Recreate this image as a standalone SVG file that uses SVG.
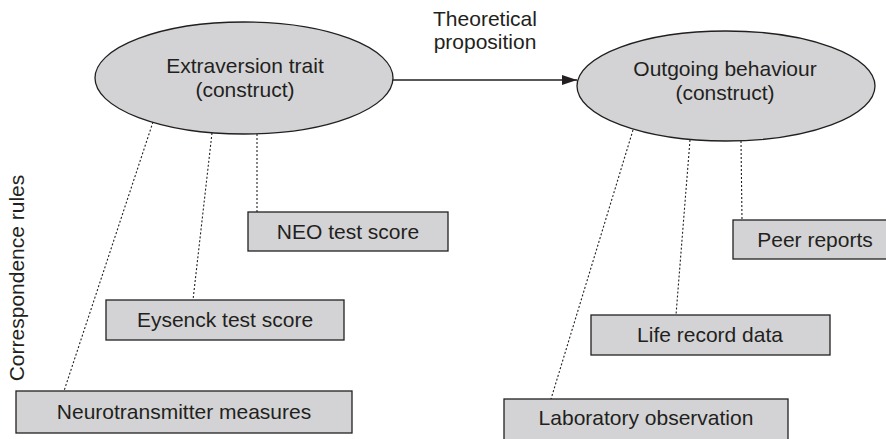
<svg xmlns="http://www.w3.org/2000/svg" width="886" height="439" viewBox="0 0 886 439">
<defs>
<style>
.node{fill:#d3d3d5;stroke:#231f20;stroke-width:1.3}
.t{font-family:"Liberation Sans",Arial,sans-serif;font-size:21px;fill:#231f20;text-anchor:middle}
.dot{stroke:#231f20;stroke-width:1.1;stroke-dasharray:2 2;fill:none}
.arr{stroke:#231f20;stroke-width:1.3;fill:none}
</style>
<marker id="ah" markerWidth="16" markerHeight="12" refX="15" refY="5" orient="auto" markerUnits="userSpaceOnUse">
<path d="M0,0 L15,5 L0,10 Z" fill="#231f20"/>
</marker>
</defs>
<rect width="886" height="439" fill="#ffffff"/>
<g id="connectors">
<line class="arr" x1="393" y1="80" x2="577" y2="80" marker-end="url(#ah)"/>
<line class="dot" x1="153" y1="122" x2="64" y2="391"/>
<line class="dot" x1="212" y1="133" x2="193" y2="300"/>
<line class="dot" x1="257" y1="134" x2="257" y2="212"/>
<line class="dot" x1="633" y1="130" x2="551" y2="399"/>
<line class="dot" x1="690" y1="140" x2="676" y2="315"/>
<line class="dot" x1="741" y1="141" x2="742" y2="220"/>
</g>
<g id="label-proposition">
<text class="t" x="485" y="26">Theoretical</text>
<text class="t" x="485" y="49">proposition</text>
</g>
<g id="label-correspondence">
<text class="t" transform="translate(23.5,278) rotate(-90)" x="0" y="0">Correspondence rules</text>
</g>
<g id="extraversion">
<ellipse class="node" cx="244" cy="78" rx="149" ry="56"/>
<text class="t" x="245" y="73">Extraversion trait</text>
<text class="t" x="245" y="97">(construct)</text>
</g>
<g id="outgoing">
<ellipse class="node" cx="726" cy="86" rx="149" ry="55"/>
<text class="t" x="725" y="76">Outgoing behaviour</text>
<text class="t" x="725" y="100">(construct)</text>
</g>
<g id="neo">
<rect class="node" x="248" y="212" width="200" height="39"/>
<text class="t" x="348" y="239">NEO test score</text>
</g>
<g id="eysenck">
<rect class="node" x="106" y="300" width="238" height="40"/>
<text class="t" x="225" y="327">Eysenck test score</text>
</g>
<g id="neurotransmitter">
<rect class="node" x="16" y="391" width="336" height="42"/>
<text class="t" x="184" y="419">Neurotransmitter measures</text>
</g>
<g id="peer">
<rect class="node" x="733" y="220" width="164" height="39"/>
<text class="t" x="815" y="247">Peer reports</text>
</g>
<g id="liferecord">
<rect class="node" x="591" y="315" width="239" height="40"/>
<text class="t" x="710" y="342">Life record data</text>
</g>
<g id="laboratory">
<rect class="node" x="504" y="399" width="284" height="50"/>
<text class="t" x="646" y="425">Laboratory observation</text>
</g>
</svg>
